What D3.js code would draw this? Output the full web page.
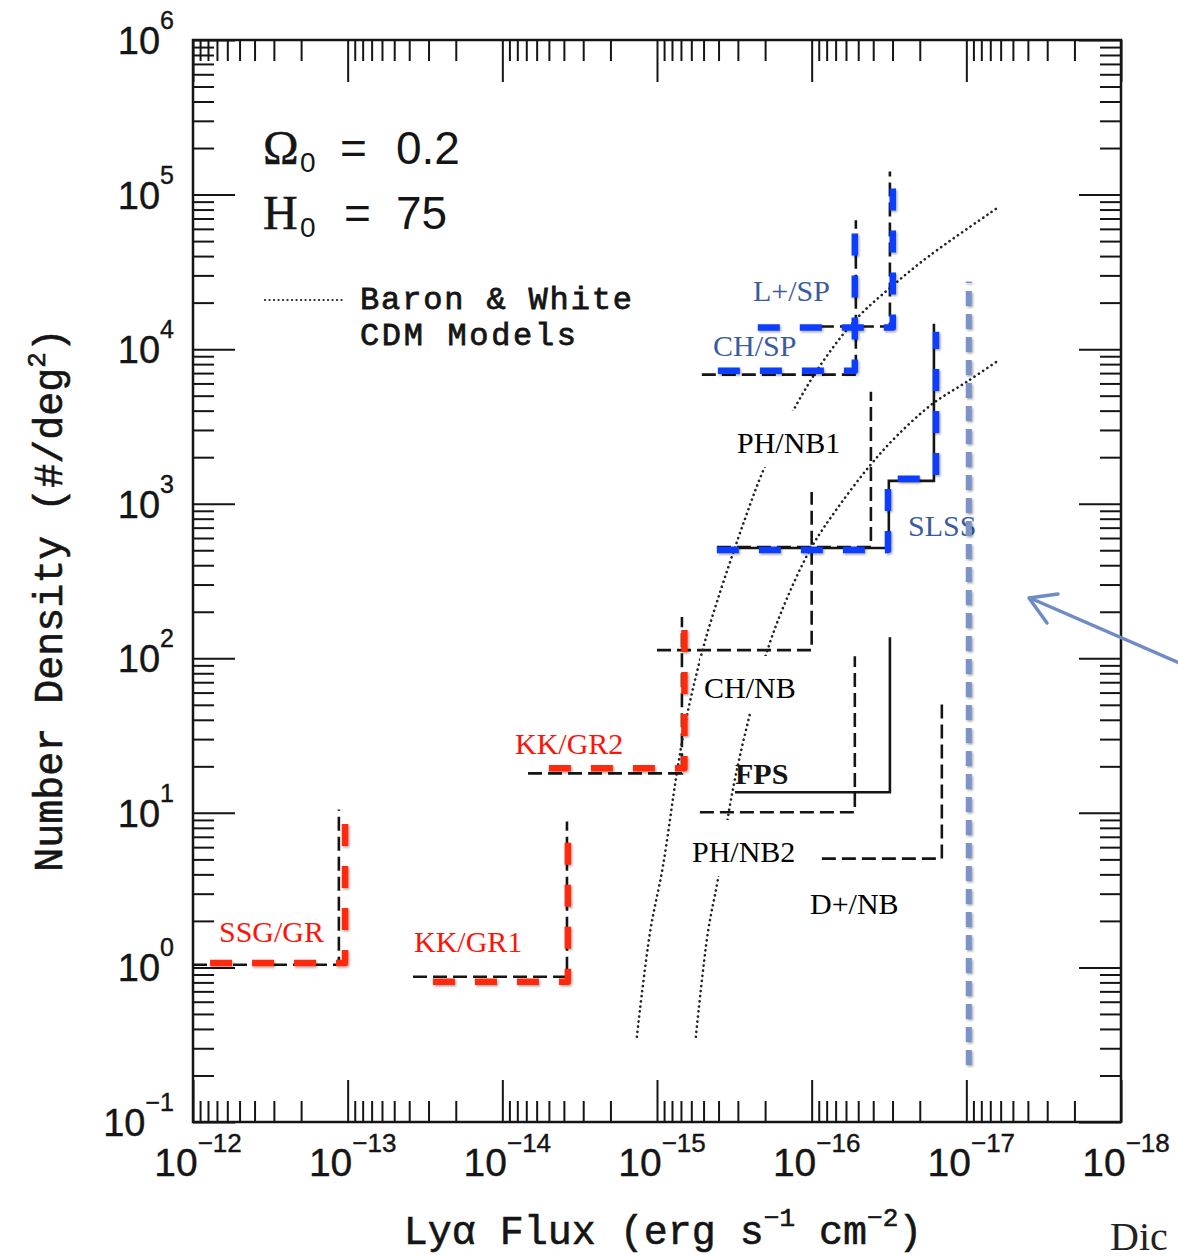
<!DOCTYPE html>
<html><head><meta charset="utf-8">
<script src="https://cdn.jsdelivr.net/npm/d3@7"></script>
<style>html,body{margin:0;padding:0;background:#fff;overflow:hidden}</style>
</head><body>
<svg id="chart" width="1178" height="1258"></svg>
<script>
// ---------------- data ----------------
const xTickExponents = [-12, -13, -14, -15, -16, -17, -18];
const yTickExponents = [-1, 0, 1, 2, 3, 4, 5, 6];

// Original (black) survey limits: horizontal at density from fluxStart to fluxLimit, then vertical up to densityTop
const surveyNames      = ["SSG/GR", "KK/GR1", "KK/GR2", "CH/NB", "FPS", "PH/NB2", "D+/NB", "PH/NB1", "CH/SP", "L+/SP"];
const surveyFluxStart  = [1e-12, 3.78e-14, 6.82e-15, 1.00e-15, 3.13e-16, 5.28e-16, 8.59e-17, 4.10e-16, 5.13e-16, 2.16e-16];
const surveyFluxLimit  = [1.14e-13, 3.82e-15, 6.90e-16, 1.00e-16, 3.12e-17, 5.26e-17, 1.44e-17, 4.14e-17, 5.18e-17, 3.12e-17];
const surveyDensity    = [1.04, 0.870, 18.0, 113, 13.6, 10.1, 5.06, 525, 6840, 14000];
const surveyDensityTop = [10.5, 8.79, 185, 1190, 137, 103, 50.5, 5310, 68100, 141000];

// SLSS two-step limit (solid black)
const slssFlux    = [4.10e-16, 3.17e-17, 3.17e-17, 1.62e-17, 1.62e-17];
const slssDensity = [517, 517, 1406, 1406, 14600];

// Highlighted (red) surveys
const redNames      = ["SSG/GR", "KK/GR1", "KK/GR2"];
const redFluxStart  = [7.76e-13, 2.81e-14, 5.00e-15];
const redFluxLimit  = [1.04e-13, 3.77e-15, 6.65e-16];
const redDensity    = [1.07, 0.808, 19.4];
const redDensityTop = [8.67, 6.62, 157];

// Highlighted (blue) surveys
const blueNames      = ["CH/SP", "L+/SP"];
const blueFluxStart  = [4.04e-16, 2.23e-16];
const blueFluxLimit  = [5.26e-17, 2.99e-17];
const blueDensity    = [7260, 13800];
const blueDensityTop = [57700, 110000];
const blueSlssFlux    = [4.10e-16, 3.21e-17, 3.21e-17, 1.57e-17, 1.57e-17];
const blueSlssDensity = [502, 502, 1449, 1449, 12970];

// Light-blue vertical limit
const limitFlux = 9.64e-18;
const limitDensity = [0.234, 27400];

// Baron & White CDM model curves
const modelAFlux    = [1.35e-15, 1.11e-15, 9.16e-16, 7.43e-16, 6.41e-16, 5.05e-16, 4.04e-16, 2.70e-16, 2.01e-16, 1.32e-16, 8.47e-17, 5.11e-17, 2.99e-17, 1.72e-17, 6.35e-18];
const modelADensity = [0.356, 1.68, 4.50, 18.3, 42.2, 115, 242, 796, 1730, 3990, 8300, 15800, 25800, 40400, 81500];
const modelBFlux    = [5.61e-16, 4.69e-16, 4.04e-16, 3.23e-16, 2.51e-16, 1.92e-16, 1.45e-16, 1.00e-16, 6.87e-17, 4.21e-17, 2.81e-17, 1.65e-17, 9.93e-18, 6.25e-18];
const modelBDensity = [0.356, 1.68, 3.70, 14.2, 43.4, 115, 242, 525, 925, 1760, 2750, 4440, 6150, 8410];

// Labels
const labelTexts = ["L+/SP", "CH/SP", "PH/NB1", "SLSS", "CH/NB", "KK/GR2", "PH/NB2", "D+/NB", "SSG/GR", "KK/GR1"];
const labelKinds = ["blue", "blue", "black", "blue", "black", "red", "black", "black", "red", "red"];

// ---------------- drawing ----------------
const W = 1178, H = 1258;
const PL = 193, PR = 1121, PT = 40, PB = 1122;
const svg = d3.select("#chart");
svg.append("rect").attr("width", W).attr("height", H).attr("fill", "#fff");

const defs = svg.append("defs");
const f = defs.append("filter").attr("id", "shadow").attr("filterUnits", "userSpaceOnUse")
  .attr("x", 0).attr("y", 0).attr("width", W).attr("height", H);
f.append("feDropShadow").attr("dx", 1.2).attr("dy", 1.5).attr("stdDeviation", 1.3).attr("flood-color", "#000").attr("flood-opacity", 0.35);

const x = d3.scaleLog().domain([1e-12, 1e-18]).range([PL, PR]);
const y = d3.scaleLog().domain([1e-1, 1e6]).range([PB, PT]);
const line = d3.line().x(d => x(d[0])).y(d => y(d[1]));
const ink = "#151515";

// ticks
const majorX = xTickExponents.map(e => Math.pow(10, e));
const minorX = [];
xTickExponents.slice(1).forEach(e => { for (let m = 2; m <= 9; m++) minorX.push(m * Math.pow(10, e)); });
const majorY = yTickExponents.map(e => Math.pow(10, e));
const minorY = [];
yTickExponents.slice(0, -1).forEach(e => { for (let m = 2; m <= 9; m++) minorY.push(m * Math.pow(10, e)); });

function tickAxis(axisFn, scale, values, size, tr) {
  const g = svg.append("g").attr("transform", tr)
    .call(axisFn(scale).tickValues(values).tickSize(size).tickFormat(""));
  g.select(".domain").remove();
  g.selectAll("line").attr("stroke", ink).attr("stroke-width", 2);
}
tickAxis(d3.axisTop, x, minorX, 21, `translate(0,${PB})`);
tickAxis(d3.axisTop, x, majorX, 42, `translate(0,${PB})`);
tickAxis(d3.axisBottom, x, minorX, 21, `translate(0,${PT})`);
tickAxis(d3.axisBottom, x, majorX, 42, `translate(0,${PT})`);
tickAxis(d3.axisRight, y, minorY, 21, `translate(${PL},0)`);
tickAxis(d3.axisRight, y, majorY, 42, `translate(${PL},0)`);
tickAxis(d3.axisLeft, y, minorY, 21, `translate(${PR},0)`);
tickAxis(d3.axisLeft, y, majorY, 42, `translate(${PR},0)`);

svg.append("rect").attr("x", PL).attr("y", PT).attr("width", PR - PL).attr("height", PB - PT)
  .attr("fill", "none").attr("stroke", ink).attr("stroke-width", 2.5);

// tick labels
const tl = svg.append("g").attr("font-family", "Liberation Sans, Arial, sans-serif").attr("fill", ink)
  .attr("stroke", ink).attr("stroke-width", 0.4);
xTickExponents.forEach(e => {
  const t = tl.append("text").attr("x", x(Math.pow(10, e)) + 5).attr("y", 1176)
    .attr("text-anchor", "middle").attr("font-size", 39);
  t.append("tspan").text("10");
  t.append("tspan").attr("dy", -24).attr("font-size", 26).text("\u2212" + Math.abs(e));
});
yTickExponents.forEach(e => {
  const t = tl.append("text").attr("x", 174).attr("y", y(Math.pow(10, e)) + 14)
    .attr("text-anchor", "end").attr("font-size", 38);
  t.append("tspan").text("10");
  t.append("tspan").attr("dy", -25).attr("font-size", 25).text(e < 0 ? "\u2212" + Math.abs(e) : String(e));
});

// axis titles
const mono = "Liberation Mono, Courier New, monospace";
const yt = svg.append("text").attr("transform", "translate(62,600) rotate(-90)")
  .attr("text-anchor", "middle").attr("font-family", mono).attr("font-size", 40)
  .attr("fill", ink).attr("stroke", ink).attr("stroke-width", 0.6);
yt.append("tspan").text("Number Density (#/deg");
yt.append("tspan").attr("dy", -17).attr("font-size", 26).text("2");
yt.append("tspan").attr("dy", 17).text(")");

const xt = svg.append("text").attr("x", 663).attr("y", 1244)
  .attr("text-anchor", "middle").attr("font-family", mono).attr("font-size", 40)
  .attr("fill", ink).attr("stroke", ink).attr("stroke-width", 0.6);
xt.append("tspan").text("Ly\u03b1 Flux (erg s");
xt.append("tspan").attr("dy", -18).attr("font-size", 26).text("\u22121");
xt.append("tspan").attr("dy", 18).text(" cm");
xt.append("tspan").attr("dy", -18).attr("font-size", 26).text("\u22122");
xt.append("tspan").attr("dy", 18).text(")");

// legend / parameters
const lg = svg.append("g").attr("fill", ink);
const serif = "Liberation Serif, Times New Roman, serif";
const sans = "Liberation Sans, Arial, sans-serif";
lg.append("text").attr("x", 263).attr("y", 164).attr("font-family", serif).attr("font-size", 48).attr("stroke", ink).attr("stroke-width", 0.5).text("\u03a9");
lg.append("text").attr("x", 300).attr("y", 172).attr("font-family", sans).attr("font-size", 28).text("0");
lg.append("text").attr("x", 340).attr("y", 164).attr("font-family", sans).attr("font-size", 46).text("=");
lg.append("text").attr("x", 396).attr("y", 164).attr("font-family", sans).attr("font-size", 46).text("0.2");
lg.append("text").attr("x", 263).attr("y", 229).attr("font-family", serif).attr("font-size", 48).attr("stroke", ink).attr("stroke-width", 0.5).text("H");
lg.append("text").attr("x", 300).attr("y", 237).attr("font-family", sans).attr("font-size", 28).text("0");
lg.append("text").attr("x", 344).attr("y", 229).attr("font-family", sans).attr("font-size", 46).text("=");
lg.append("text").attr("x", 396).attr("y", 229).attr("font-family", sans).attr("font-size", 46).text("75");
lg.append("line").attr("x1", 265).attr("x2", 343).attr("y1", 300).attr("y2", 300)
  .attr("stroke", "#222").attr("stroke-width", 2.2).attr("stroke-dasharray", "0.1,4.4").attr("stroke-linecap", "round");
lg.append("text").attr("x", 360).attr("y", 309).attr("font-family", mono).attr("font-size", 32)
  .attr("textLength", 272).attr("lengthAdjust", "spacing")
  .attr("stroke", ink).attr("stroke-width", 0.8).text("Baron & White");
lg.append("text").attr("x", 360).attr("y", 345).attr("font-family", mono).attr("font-size", 32)
  .attr("textLength", 216).attr("lengthAdjust", "spacing")
  .attr("stroke", ink).attr("stroke-width", 0.8).text("CDM Models");

// black survey outlines
const solidSurveys = new Set(["FPS"]);
const gb = svg.append("g").attr("fill", "none").attr("stroke", ink).attr("stroke-width", 2.6);
surveyNames.forEach((n, i) => {
  const pts = [[surveyFluxStart[i], surveyDensity[i]], [surveyFluxLimit[i], surveyDensity[i]], [surveyFluxLimit[i], surveyDensityTop[i]]];
  gb.append("path").attr("d", line(pts)).attr("stroke-dasharray", solidSurveys.has(n) ? null : "14,6");
});
gb.append("path").attr("d", line(slssFlux.map((v, i) => [v, slssDensity[i]])));

// model curves
const curve = d3.line().x(d => x(d[0])).y(d => y(d[1])).curve(d3.curveCatmullRom);
[[modelAFlux, modelADensity], [modelBFlux, modelBDensity]].forEach(([fx, dy]) => {
  svg.append("path").attr("d", curve(fx.map((v, i) => [v, dy[i]])))
    .attr("fill", "none").attr("stroke", "#222").attr("stroke-width", 2.6)
    .attr("stroke-dasharray", "0.1,5").attr("stroke-linecap", "round");
});

// original figure label
svg.append("text").attr("x", 735).attr("y", 784).attr("font-family", serif).attr("font-weight", "bold")
  .attr("font-size", 30).attr("fill", ink).text("FPS");

// overlay labels with white boxes
const labelPos = [[753, 301], [713, 356], [737, 453], [908, 536], [704, 698], [515, 754], [692, 862], [810, 914], [219, 942], [414, 952]];
const kindColor = { blue: "#3a5c9e", black: "#000", red: "#ff1208" };
labelTexts.forEach((t, i) => {
  const g = svg.append("g");
  const r = g.append("rect").attr("fill", "#fff");
  const tx = g.append("text").attr("x", labelPos[i][0]).attr("y", labelPos[i][1])
    .attr("font-family", serif).attr("font-size", 30).attr("fill", kindColor[labelKinds[i]]).text(t);
  const b = tx.node().getBBox();
  r.attr("x", b.x - 4).attr("y", b.y - 15).attr("width", b.width + 8).attr("height", b.height + 23);
});

// coloured overlays
const gr = svg.append("g").attr("fill", "none").attr("stroke-width", 6.5).attr("stroke-linejoin", "round")
  .attr("filter", "url(#shadow)");
redNames.forEach((n, i) => {
  const pts = [[redFluxStart[i], redDensity[i]], [redFluxLimit[i], redDensity[i]], [redFluxLimit[i], redDensityTop[i]]];
  gr.append("path").attr("d", line(pts)).attr("stroke", "#ff2a0a").attr("stroke-dasharray", "22,20");
});
blueNames.forEach((n, i) => {
  const pts = [[blueFluxStart[i], blueDensity[i]], [blueFluxLimit[i], blueDensity[i]], [blueFluxLimit[i], blueDensityTop[i]]];
  gr.append("path").attr("d", line(pts)).attr("stroke", "#0a3cff").attr("stroke-dasharray", "22,20");
});
gr.append("path").attr("d", line(blueSlssFlux.map((v, i) => [v, blueSlssDensity[i]])))
  .attr("stroke", "#0a3cff").attr("stroke-dasharray", "22,20");

svg.append("path").attr("d", line([[limitFlux, limitDensity[0]], [limitFlux, limitDensity[1]]]))
  .attr("fill", "none").attr("stroke", "#7b93c8").attr("stroke-width", 6).attr("stroke-dasharray", "15,8")
  .attr("filter", "url(#shadow)");

// arrow annotation
const ac = "#6f8bc6";
svg.append("line").attr("x1", 1200).attr("y1", 672).attr("x2", 1030).attr("y2", 598)
  .attr("stroke", ac).attr("stroke-width", 3.5).attr("stroke-linecap", "round");
svg.append("path").attr("d", "M1047,623 L1029,598 L1058,594").attr("fill", "none")
  .attr("stroke", ac).attr("stroke-width", 3.5).attr("stroke-linecap", "round").attr("stroke-linejoin", "round");

// caption fragment at bottom right
svg.append("text").attr("x", 1110).attr("y", 1250).attr("font-family", serif).attr("font-size", 40)
  .attr("fill", "#222").text("Dic");
</script>
</body></html>
